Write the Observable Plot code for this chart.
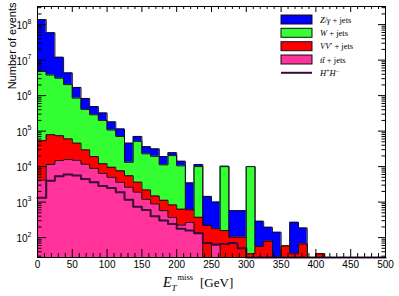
<!DOCTYPE html>
<html><head><meta charset="utf-8">
<script src="https://cdn.jsdelivr.net/npm/d3@7"></script>
<script src="https://cdn.jsdelivr.net/npm/@observablehq/plot@0.6"></script>
<style>body{margin:0;background:#fff}#chart{width:399px;height:296px}</style>
</head><body><div id="chart"></div>
<script>
// Bin lower edges (GeV), 12.5 GeV wide bins
const binLow = [0,12.5,25,37.5,50,62.5,75,87.5,100,112.5,125,137.5,150,162.5,175,187.5,200,212.5,225,237.5,
  250,262.5,275,287.5,300,312.5,325,337.5,350,362.5,375,387.5,400,412.5,425,437.5,450,462.5,475,487.5];
const binWidth = 12.5;

// Events per bin for each process
const zJets  = [1.33e8,5.51e7,8.9e6,2.33e6,8.5e5,4.25e5,2.02e5,1.24e5,75000,44200,32500,19500,13400,12100,7900,4100,3600,2870,1500,1230,
  822,230,473,473,0,232,116,141,0,234,120,0,0,0,0,0,0,0,0,0];
const wJets  = [4.74e6,3.72e6,3.02e6,1.98e6,8.05e5,3.78e5,2.69e5,1.88e5,97500,63200,7700,47700,20700,18000,10100,19600,9870,0,9630,0,
  0,9840,0,0,9960,0,0,0,0,0,0,0,0,0,0,0,0,0,0,0];
const vvJets = [49500,67900,59300,44500,30600,17800,10200,5540,4540,3960,2870,1720,990,590,545,460,407,334,237,219,
  112,158,102,102,35,56,79,0,58,35,66,0,35,0,0,0,0,0,0,0];
const ttJets = [4170,11500,14800,15800,15100,11700,8900,6460,5010,3630,2630,1910,1200,890,575,372,224,269,135,0,
  66,0,0,0,0,0,0,0,0,0,0,0,0,0,0,0,0,0,0,0];
const hPlusMinus = [1320,3980,5370,6030,5620,4470,3630,2820,2510,1910,1170,741,603,398,302,240,178,158,132,71,
  63,66,71,50,0,0,0,0,0,0,0,0,0,0,0,0,0,0,0,0];

// Axis tick values / labels
const xMajor = [0,50,100,150,200,250,300,350,400,450,500];
const xMinor = d3.range(0, 501, 10).filter(v => v % 50 !== 0);
const yMajor = [1e2,1e3,1e4,1e5,1e6,1e7,1e8];
const yDomain = [27.5, 3.24e8];
const yMinor = [];
for (let e = 1; e <= 8; e++) for (let k = 2; k <= 9; k++) { const v = k * 10 ** e; if (v > yDomain[0] && v < yDomain[1]) yMinor.push(v); }

const legendItems = [
  {parts: [["Z", true], ["/", false], ["γ", true], [" + jets", false]], fill: "#0000ff"},
  {parts: [["W", true], [" + jets", false]], fill: "#33ff33"},
  {parts: [["VV", true], ["′ + jets", false]], fill: "#ff0000"},
  {parts: [["tt\u0304", true], [" + jets", false]], fill: "#ff3399"},
  {parts: null, fill: null}
];

// cumulative stack (bottom to top: tt, VV, W, Z)
const cTT = ttJets.slice();
const cVV = cTT.map((v, i) => v + vvJets[i]);
const cW = cVV.map((v, i) => v + wJets[i]);
const cZ = cW.map((v, i) => v + zJets[i]);

const floor = yDomain[0];
const steps = vals => {
  const pts = binLow.map((x, i) => ({x, v: Math.max(vals[i], floor)}));
  pts.push({x: binLow[binLow.length - 1] + binWidth, v: Math.max(vals[vals.length - 1], floor)});
  return pts;
};

const layers = [
  {cum: cZ, fill: "#0000ff"},
  {cum: cW, fill: "#33ff33"},
  {cum: cVV, fill: "#ff0000"},
  {cum: cTT, fill: "#ff3399"}
];

const W = 399, H = 296, mL = 37, mR = 14, mT = 6, mB = 39;
const fw = W - mL - mR, fh = H - mT - mB;

const marks = [];
for (const L of layers) {
  marks.push(Plot.areaY(steps(L.cum), {x: "x", y1: () => floor, y2: "v", curve: "step-after", fill: L.fill}));
  marks.push(Plot.line(steps(L.cum), {x: "x", y: "v", curve: "step-after", stroke: "#111", strokeWidth: 1}));
}
marks.push(Plot.line(steps(hPlusMinus), {x: "x", y: "v", curve: "step-after", stroke: "#3a0a3a", strokeWidth: 2}));

// ticks (inward, on all four sides)
marks.push(Plot.ruleX(xMajor, {x: d => d, insetTop: fh - 8, stroke: "#000"}));
marks.push(Plot.ruleX(xMinor, {x: d => d, insetTop: fh - 4, stroke: "#000"}));
marks.push(Plot.ruleX(xMajor, {x: d => d, insetBottom: fh - 6, stroke: "#000"}));
marks.push(Plot.ruleX(xMinor, {x: d => d, insetBottom: fh - 3, stroke: "#000"}));
marks.push(Plot.ruleY(yMajor, {y: d => d, insetRight: fw - 9, stroke: "#000"}));
marks.push(Plot.ruleY(yMinor, {y: d => d, insetRight: fw - 4.5, stroke: "#000"}));
marks.push(Plot.ruleY(yMajor, {y: d => d, insetLeft: fw - 7, stroke: "#000"}));
marks.push(Plot.ruleY(yMinor, {y: d => d, insetLeft: fw - 3.5, stroke: "#000"}));
marks.push(Plot.frame({stroke: "#000", strokeWidth: 1}));

// tick labels
marks.push(Plot.text(xMajor, {x: d => d, text: d => String(d), frameAnchor: "bottom", lineAnchor: "top", dy: 3, fontSize: 10, fill: "#000"}));
marks.push(Plot.text(yMajor, {y: d => d, text: () => "10", frameAnchor: "left", textAnchor: "end", dx: -10, dy: 1.5, fontSize: 10, fill: "#000"}));
marks.push(Plot.text(yMajor, {y: d => d, text: d => String(Math.round(Math.log10(d))), frameAnchor: "left", textAnchor: "start", dx: -10, dy: -3, fontSize: 7, fill: "#000"}));
// y title
marks.push(Plot.text(["Number of events"], {text: d => d, frameAnchor: "top-left", rotate: -90, textAnchor: "end", dx: -29, dy: -4, fontSize: 11, fill: "#000"}));

const svg = Plot.plot({
  width: W, height: H,
  marginLeft: mL, marginRight: mR, marginTop: mT, marginBottom: mB,
  x: {domain: [0, 500], axis: null},
  y: {type: "log", domain: yDomain, axis: null},
  style: {fontFamily: "'Liberation Sans', Arial, sans-serif", background: "#fff"},
  marks
});

const s = d3.select(svg);
// x axis title  E_T^miss [GeV]
const xt = s.append("text").attr("text-anchor", "start").attr("font-family", "'Liberation Serif', 'DejaVu Serif', serif").attr("fill", "#000");
xt.append("tspan").attr("x", 163).attr("y", 287).attr("font-style", "italic").attr("font-size", 14).text("E");
xt.append("tspan").attr("x", 171.5).attr("y", 290.5).attr("font-style", "italic").attr("font-size", 9).text("T");
xt.append("tspan").attr("x", 177.5).attr("y", 279.5).attr("font-size", 8.5).text("miss");
xt.append("tspan").attr("x", 200).attr("y", 287).attr("font-size", 13).text("[GeV]");

// legend
const lg = s.append("g").attr("text-anchor", "start").attr("font-family", "'Liberation Serif', 'DejaVu Serif', serif").attr("font-size", 8.5).attr("fill", "#000");
const rowY = [15, 28.3, 41.7, 55, 68.3];
legendItems.forEach((it, i) => {
  const y0 = rowY[i];
  if (it.fill) {
    lg.append("rect").attr("x", 281).attr("y", y0).attr("width", 31).attr("height", 9)
      .attr("fill", it.fill).attr("stroke", "#111").attr("stroke-width", 1);
    const t = lg.append("text").attr("x", 320).attr("y", y0 + 7.5);
    it.parts.forEach(([str, ital]) => t.append("tspan").attr("font-style", ital ? "italic" : "normal").text(str));
  } else {
    lg.append("line").attr("x1", 281).attr("x2", 312).attr("y1", y0 + 4.5).attr("y2", y0 + 4.5)
      .attr("stroke", "#3a0a3a").attr("stroke-width", 2);
    const t = lg.append("text").attr("x", 320).attr("y", y0 + 7.5);
    t.append("tspan").attr("font-style", "italic").text("H");
    t.append("tspan").attr("font-size", 6).attr("dy", -3).text("+");
    t.append("tspan").attr("font-style", "italic").attr("dy", 3).text("H");
    t.append("tspan").attr("font-size", 6).attr("dy", -3).text("−");
  }
});

document.getElementById("chart").appendChild(svg);
</script></body></html>
